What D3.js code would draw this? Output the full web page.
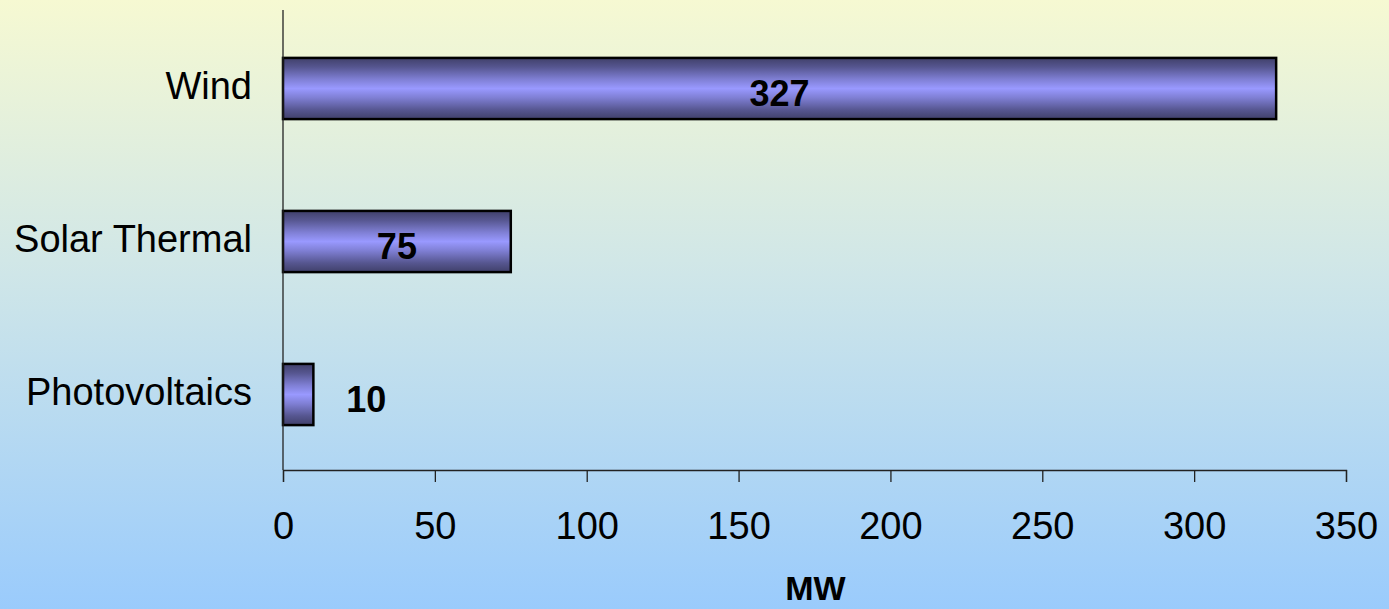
<!DOCTYPE html>
<html>
<head>
<meta charset="utf-8">
<script src="https://cdn.jsdelivr.net/npm/d3@7"></script>
<style>
  html, body { margin: 0; padding: 0; }
  body { width: 1389px; height: 609px; overflow: hidden; }
  text { font-family: "Liberation Sans", Arial, sans-serif; fill: #000; }
</style>
</head>
<body>
<svg id="chart" width="1389" height="609"></svg>
<script>
// Installed renewable capacity by technology (MW)
const categories = ["Wind", "Solar Thermal", "Photovoltaics"];
const capacityMW = [327, 75, 10];
const xTicks = [0, 50, 100, 150, 200, 250, 300, 350];
const axisTitle = "MW";

const W = 1389, H = 609;
const plot = { left: 283, right: 1346, top: 12, bottom: 471, axisTop: 10, axisY: 470 };

const svg = d3.select("#chart");
const defs = svg.append("defs");

// page background: pale yellow fading to light blue
const bg = defs.append("linearGradient").attr("id", "bgGrad")
  .attr("x1", 0).attr("y1", 0).attr("x2", 0).attr("y2", 1);
bg.append("stop").attr("offset", "0%").attr("stop-color", "#f6f9d2");
bg.append("stop").attr("offset", "45%").attr("stop-color", "#cfe6e8");
bg.append("stop").attr("offset", "100%").attr("stop-color", "#9acbfc");

// tubular shading for the bars
const barGrad = defs.append("linearGradient").attr("id", "barGrad")
  .attr("x1", 0).attr("y1", 0).attr("x2", 0).attr("y2", 1);
[[0, "#40406a"], [0.15, "#565690"], [0.35, "#7f7fd4"], [0.5, "#9999ff"],
 [0.65, "#7f7fd4"], [0.85, "#565690"], [1, "#40406a"]].forEach(([o, c]) =>
  barGrad.append("stop").attr("offset", o).attr("stop-color", c));

svg.append("rect").attr("width", W).attr("height", H).attr("fill", "url(#bgGrad)");

const x = d3.scaleLinear().domain([0, 350]).range([plot.left, plot.right]);
const y = d3.scaleBand().domain(categories).range([plot.top, plot.bottom])
  .paddingInner(0.6).paddingOuter(0.3);

const data = categories.map((c, i) => ({ cat: c, val: capacityMW[i] }));

// bars
svg.append("g").selectAll("rect").data(data).join("rect")
  .attr("x", x(0))
  .attr("y", d => y(d.cat))
  .attr("width", d => x(d.val) - x(0))
  .attr("height", y.bandwidth())
  .attr("fill", "url(#barGrad)")
  .attr("stroke", "#000")
  .attr("stroke-width", 2.5);

// value axis
const xAxis = svg.append("g")
  .attr("transform", `translate(0,${plot.axisY})`)
  .call(d3.axisBottom(x).tickValues(xTicks).tickSize(12).tickPadding(0).tickFormat(d3.format("d")));
xAxis.select(".domain").attr("stroke", "#222").attr("stroke-width", 1.3);
xAxis.selectAll(".tick line").attr("stroke", "#222").attr("stroke-width", 1.3);
xAxis.selectAll(".tick text")
  .attr("y", 69).attr("dy", null)
  .attr("font-size", 38)
  .attr("font-family", "Liberation Sans, Arial, sans-serif")
  .attr("fill", "#000");

// category axis line
svg.append("line")
  .attr("x1", plot.left).attr("x2", plot.left)
  .attr("y1", plot.axisTop).attr("y2", plot.axisY)
  .attr("stroke", "#222").attr("stroke-width", 1.3);

// category labels
svg.append("g").selectAll("text").data(data).join("text")
  .attr("x", plot.left - 31)
  .attr("y", d => y(d.cat) + y.bandwidth() / 2 + 10)
  .attr("text-anchor", "end")
  .attr("font-size", 38)
  .text(d => d.cat);

// value labels: centred in the bar, or just past its end if the bar is too short
svg.append("g").selectAll("text").data(data).join("text")
  .attr("x", d => {
    const w = x(d.val) - x(0);
    return w > 90 ? (x(0) + x(d.val)) / 2 : x(d.val) + 53;
  })
  .attr("y", d => y(d.cat) + y.bandwidth() / 2 + 17)
  .attr("text-anchor", "middle")
  .attr("font-size", 36)
  .attr("font-weight", "bold")
  .text(d => d.val);

// axis title
svg.append("text")
  .attr("x", (plot.left + plot.right) / 2 + 1)
  .attr("y", 600)
  .attr("text-anchor", "middle")
  .attr("font-size", 34)
  .attr("font-weight", "bold")
  .text(axisTitle);
</script>
</body>
</html>
